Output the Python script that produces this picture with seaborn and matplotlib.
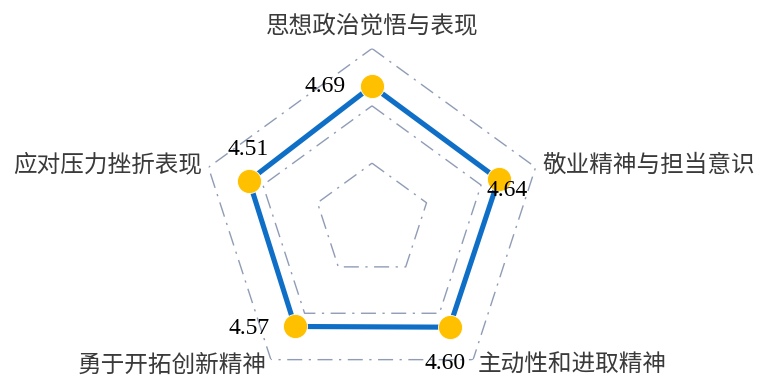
import numpy as np
import pandas as pd
import matplotlib
matplotlib.use("Agg")
import matplotlib.pyplot as plt
import seaborn as sns

# data
categories = ['思想政治觉悟与表现', '敬业精神与担当意识', '主动性和进取精神',
              '勇于开拓创新精神', '应对压力挫折表现']
scores = [4.69, 4.64, 4.60, 4.57, 4.51]
grid_levels = [2, 4, 6]
r_max = 6

sns.set_theme(style='white')
plt.rcParams['font.family'] = ['Noto Sans CJK SC', 'DejaVu Sans']

n = len(categories)
angles = np.pi / 2 - np.arange(n) * 2 * np.pi / n
df = pd.DataFrame({'angle': angles, 'score': scores, 'category': categories})
closed = pd.concat([df, df.iloc[:1]], ignore_index=True)

fig = plt.figure(figsize=(7.6, 3.76), dpi=100)
# center at (372, 220) px from top, radius 172 px
ax = fig.add_axes([200 / 760, -16.5 / 376, 344 / 760, 344 / 376], projection='polar')
ax.set_ylim(0, r_max)
ax.grid(False)
ax.spines['polar'].set_visible(False)
ax.set_facecolor('none')

# pentagon grid
ring = np.append(angles, angles[0])
for lvl in grid_levels:
    ax.plot(ring, [lvl] * len(ring), color='#8F9CB6', lw=1.0,
            ls=(0, (10.8, 4.7, 1.6, 4.7)), zorder=1)

sns.lineplot(data=closed, x='angle', y='score', sort=False, estimator=None,
             color='#0F6FC6', lw=3.7, ax=ax, zorder=2)
sns.scatterplot(data=df, x='angle', y='score', color='#FFC000', s=300,
                edgecolor='white', linewidth=0.6, ax=ax, zorder=3)

ax.set_xticks([])
ax.set_yticks([])
ax.set_xlabel('')
ax.set_ylabel('')

# value labels
label_offsets = [(-19, 0), (6, -8), (-3, -26), (-18, -1.5), (-1, 22)]
label_ha = ['right', 'center', 'center', 'right', 'center']
for a, v, off, ha in zip(angles, scores, label_offsets, label_ha):
    ax.annotate(f'{v:.2f}', xy=(a, v), xytext=off, textcoords='offset points',
                ha=ha, va='center', fontsize=17, color='black',
                family=['Liberation Serif', 'DejaVu Serif'], zorder=4)

# category labels
cat_r = [6.78, 6.27, 6.25, 6.25, 6.24]
cat_ha = ['center', 'left', 'left', 'right', 'right']
for a, c, r, ha in zip(angles, categories, cat_r, cat_ha):
    ax.text(a, r, c, ha=ha, va='center', fontsize=17, color='#3A3A3A')

fig.savefig('out.png', dpi=100)
